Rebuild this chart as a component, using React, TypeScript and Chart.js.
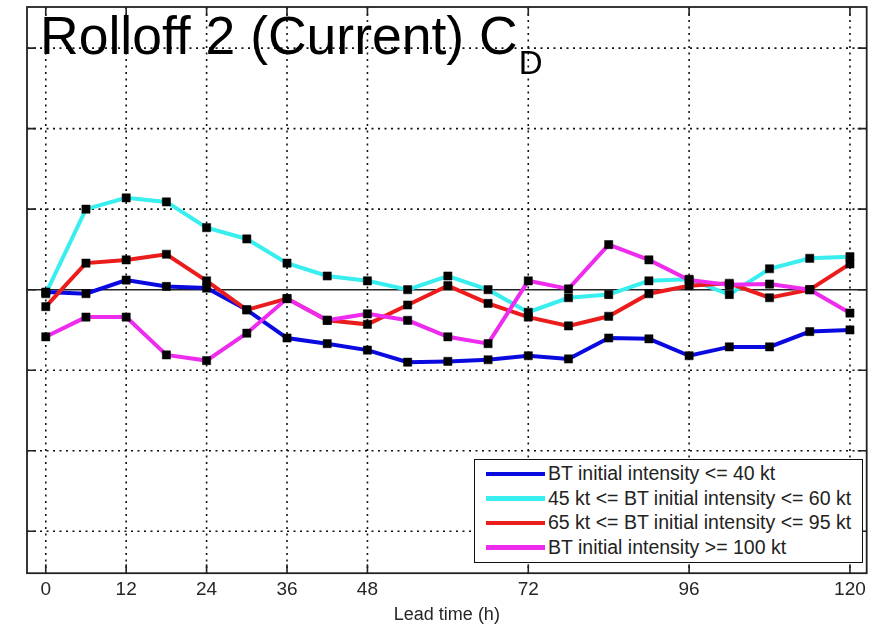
import React, { useEffect, useRef } from 'react';
import { Chart, registerables } from 'chart.js';

Chart.register(...registerables);

// ---- data ----
const leadTimes = [0, 6, 12, 18, 24, 30, 36, 42, 48, 54, 60, 66, 72, 78, 84, 90, 96, 102, 108, 114, 120];

const blueSeries = [-0.03, -0.05, 0.12, 0.04, 0.02, -0.25, -0.6, -0.67, -0.75, -0.9, -0.89, -0.87, -0.82, -0.86, -0.6, -0.61, -0.82, -0.71, -0.71, -0.52, -0.5];
const cyanSeries = [-0.05, 1.0, 1.14, 1.09, 0.77, 0.63, 0.33, 0.17, 0.11, 0.0, 0.17, 0.0, -0.28, -0.1, -0.06, 0.11, 0.13, -0.06, 0.26, 0.39, 0.41];
const redSeries = [-0.21, 0.33, 0.37, 0.44, 0.11, -0.25, -0.11, -0.38, -0.43, -0.19, 0.05, -0.17, -0.34, -0.45, -0.33, -0.05, 0.05, 0.08, -0.1, 0.0, 0.32];
const magentaSeries = [-0.585, -0.34, -0.34, -0.81, -0.88, -0.54, -0.11, -0.38, -0.3, -0.38, -0.585, -0.67, 0.11, 0.01, 0.56, 0.37, 0.12, 0.06, 0.07, 0.0, -0.29];

const seriesLabels = [
  'BT initial intensity <= 40 kt',
  '45 kt <= BT initial intensity <= 60 kt',
  '65 kt <= BT initial intensity <= 95 kt',
  'BT initial intensity >= 100 kt',
];
const seriesColors = ['#0a0ae0', '#38eeee', '#ea1c1c', '#ee2cee'];

const xTickValues = [0, 12, 24, 36, 48, 72, 96, 120];
const yGridValues = [-3, -2, -1, 0, 1, 2, 3];

const titleMain = 'Rolloff 2 (Current) C';
const titleSub = 'D';
const xAxisTitle = 'Lead time (h)';

const FONT = '"Liberation Sans", Arial, sans-serif';

const matlabAxes = {
  id: 'matlabAxes',
  beforeDatasetsDraw(chart: any) {
    const { ctx, chartArea: a, scales } = chart;
    const x = scales.x;
    const y = scales.y;
    ctx.save();
    ctx.strokeStyle = '#111';
    ctx.lineWidth = 1.6;
    ctx.setLineDash([2, 4.5]);
    xTickValues.forEach((v) => {
      const px = x.getPixelForValue(v);
      ctx.beginPath();
      ctx.moveTo(px, a.top);
      ctx.lineTo(px, a.bottom);
      ctx.stroke();
    });
    yGridValues.forEach((v) => {
      if (v === 0) return;
      const py = y.getPixelForValue(v);
      ctx.beginPath();
      ctx.moveTo(a.left, py);
      ctx.lineTo(a.right, py);
      ctx.stroke();
    });
    ctx.setLineDash([]);
    // zero reference line
    const py0 = y.getPixelForValue(0);
    ctx.strokeStyle = '#222';
    ctx.lineWidth = 1.6;
    ctx.beginPath();
    ctx.moveTo(a.left, py0);
    ctx.lineTo(a.right, py0);
    ctx.stroke();
    ctx.restore();
  },
  afterDatasetsDraw(chart: any) {
    const { ctx, chartArea: a, scales } = chart;
    const x = scales.x;
    const y = scales.y;
    const tl = 9;
    ctx.save();
    ctx.strokeStyle = '#222';
    ctx.lineWidth = 1.8;
    ctx.strokeRect(a.left, a.top, a.right - a.left, a.bottom - a.top);
    ctx.lineWidth = 1.6;
    ctx.beginPath();
    xTickValues.forEach((v) => {
      const px = x.getPixelForValue(v);
      ctx.moveTo(px, a.bottom);
      ctx.lineTo(px, a.bottom - tl);
      ctx.moveTo(px, a.top);
      ctx.lineTo(px, a.top + tl);
    });
    yGridValues.forEach((v) => {
      const py = y.getPixelForValue(v);
      ctx.moveTo(a.left, py);
      ctx.lineTo(a.left + tl, py);
      ctx.moveTo(a.right, py);
      ctx.lineTo(a.right - tl, py);
    });
    ctx.stroke();
    ctx.restore();
  },
};

export default function App() {
  const canvasRef = useRef<HTMLCanvasElement | null>(null);

  useEffect(() => {
    if (!canvasRef.current) return;
    const allSeries = [blueSeries, cyanSeries, redSeries, magentaSeries];
    const toPoints = (vals: number[]) => leadTimes.map((t, i) => ({ x: t, y: vals[i] }));
    const lineSets = allSeries.map((vals, i) => ({
      label: seriesLabels[i],
      data: toPoints(vals),
      borderColor: seriesColors[i],
      backgroundColor: seriesColors[i],
      borderWidth: 4,
      pointRadius: 0,
      tension: 0,
      fill: false,
      order: 10 - i,
    }));
    const markerSets = allSeries.map((vals, i) => ({
      label: seriesLabels[i] + ' markers',
      data: toPoints(vals),
      showLine: false,
      pointStyle: 'rect',
      pointRadius: 5.8,
      pointBackgroundColor: '#000',
      pointBorderColor: '#000',
      pointBorderWidth: 0.5,
      order: 1,
    }));

    const chart = new Chart(canvasRef.current, {
      type: 'line',
      data: { datasets: [...lineSets, ...markerSets] as any },
      options: {
        responsive: false,
        animation: false,
        layout: { padding: { left: 27, right: 5, top: 7, bottom: 1 } },
        plugins: { legend: { display: false }, tooltip: { enabled: false } },
        scales: {
          x: {
            type: 'linear',
            min: -2.8,
            max: 122.5,
            grid: { display: false, drawTicks: false },
            border: { display: false },
            afterBuildTicks: (scale: any) => {
              scale.ticks = xTickValues.map((v) => ({ value: v }));
            },
            ticks: {
              autoSkip: false,
              maxRotation: 0,
              padding: 5,
              color: '#262626',
              font: { family: FONT, size: 19 },
              callback: (v: any) => String(v),
            },
            title: {
              display: true,
              text: xAxisTitle,
              color: '#262626',
              font: { family: FONT, size: 18, lineHeight: 1 },
              padding: { top: 0, bottom: 0 },
            },
          },
          y: {
            type: 'linear',
            display: false,
            min: -3.52,
            max: 3.51,
          },
        },
      },
      plugins: [matlabAxes],
    });
    return () => chart.destroy();
  }, []);

  return (
    <div style={{ position: 'absolute', left: 0, top: 0, width: 873, height: 625, background: '#fff', overflow: 'hidden' }}>
      <canvas ref={canvasRef} width={873} height={625} style={{ position: 'absolute', left: 0, top: 0, width: 873, height: 625 }} />
      <div
        style={{
          position: 'absolute',
          left: 40,
          top: 9,
          fontFamily: FONT,
          fontSize: 53.5,
          lineHeight: '53px',
          color: '#000',
          whiteSpace: 'nowrap',
        }}
      >
        {titleMain}
        <span style={{ fontSize: 33, lineHeight: '1', position: 'relative', top: 20, marginLeft: 1 }}>{titleSub}</span>
      </div>
      <div
        style={{
          position: 'absolute',
          left: 474,
          top: 459,
          width: 389,
          height: 104,
          boxSizing: 'border-box',
          border: '1.5px solid #111',
          background: '#fff',
          paddingTop: 1.5,
        }}
      >
        {seriesLabels.map((lab, i) => (
          <div key={lab} style={{ display: 'flex', alignItems: 'center', height: 24.5 }}>
            <div style={{ marginLeft: 10.5, width: 59, height: 4.5, background: seriesColors[i] }} />
            <span
              style={{
                marginLeft: 3.5,
                fontFamily: FONT,
                fontSize: 19.5,
                lineHeight: '1',
                color: '#222',
                whiteSpace: 'nowrap',
              }}
            >
              {lab}
            </span>
          </div>
        ))}
      </div>
    </div>
  );
}
